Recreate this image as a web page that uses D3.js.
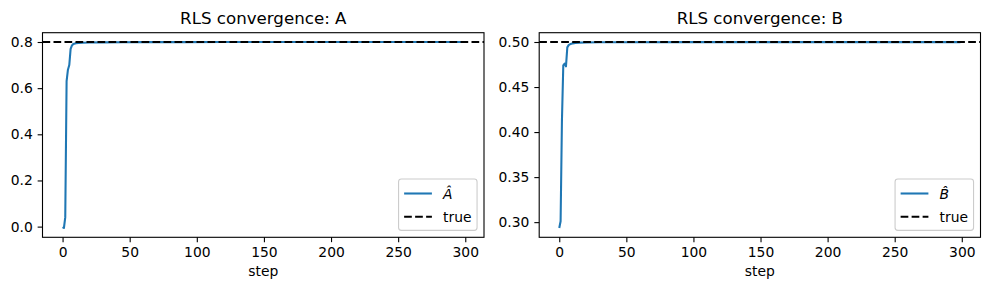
<!DOCTYPE html>
<html>
<head>
<meta charset="utf-8">
<script src="https://cdn.jsdelivr.net/npm/d3@7/dist/d3.min.js"></script>
<style>
  body { margin: 0; background: #fff; }
  svg text { font-family: "DejaVu Sans", sans-serif; fill: #000; }
</style>
</head>
<body>
<div id="chart"></div>
<script>
// values (sparse points, the curves are flat after ~20 steps)
const stepsA  = [0, 1, 2, 3, 4, 5, 6, 7, 8, 10, 12, 15, 20, 30, 45, 60, 90, 120, 160, 200, 250, 299]
const valuesA = [-0.002, -0.006, 0.04, 0.63, 0.68, 0.70, 0.77, 0.785, 0.791, 0.795, 0.796, 0.797, 0.798, 0.7985,
                 0.799, 0.7993, 0.7995, 0.7997, 0.7998, 0.7998, 0.7999, 0.7999]
const trueA = 0.8

const stepsB  = [0, 1, 2, 3, 4, 5, 6, 7, 8, 10, 12, 15, 20, 30, 50, 100, 150, 200, 250, 299]
const valuesB = [0.2935, 0.301, 0.413, 0.474, 0.476, 0.473, 0.494, 0.4965, 0.4975, 0.4985, 0.499, 0.4993,
                 0.4995, 0.4997, 0.4998, 0.4999, 0.4999, 0.4999, 0.4999, 0.4999]
const trueB = 0.5

const xTicks  = [0, 50, 100, 150, 200, 250, 300]
const yTicksA = [0.0, 0.2, 0.4, 0.6, 0.8]
const yTicksB = [0.30, 0.35, 0.40, 0.45, 0.50]

const W = 989, H = 290
const fs = 13.89           // 10pt at 100 dpi
const blue = "#1f77b4"

const svg = d3.select("#chart").append("svg")
    .attr("width", W)
    .attr("height", H)
    .attr("viewBox", `0 0 ${W} ${H}`)

// matplotlib style autoscale: data range padded by 5% on each side
function padded(lo, hi) {
    const m = (hi - lo) * 0.05
    return [lo - m, hi + m]
}

function panel(cfg) {
    const {left, right, top, bottom} = cfg
    const g = svg.append("g")

    const x = d3.scaleLinear()
        .domain(padded(d3.min(cfg.steps), d3.max(cfg.steps)))
        .range([left, right])
    const ylo = Math.min(d3.min(cfg.values), cfg.truth)
    const yhi = Math.max(d3.max(cfg.values), cfg.truth)
    const y = d3.scaleLinear()
        .domain(padded(ylo, yhi))
        .range([bottom, top])

    const pts = cfg.steps.map((s, i) => [s, cfg.values[i]])

    const clipId = "clip-" + cfg.name
    g.append("clipPath").attr("id", clipId)
        .append("rect")
        .attr("x", left).attr("y", top)
        .attr("width", right - left).attr("height", bottom - top)

    g.append("path")
        .datum(pts)
        .attr("clip-path", `url(#${clipId})`)
        .attr("d", d3.line().x(d => x(d[0])).y(d => y(d[1])))
        .style("fill", "none")
        .style("stroke", blue)
        .style("stroke-width", 2.08)
        .style("stroke-linejoin", "round")
        .style("stroke-linecap", "butt")

    g.append("line")
        .attr("x1", left).attr("x2", right)
        .attr("y1", y(cfg.truth)).attr("y2", y(cfg.truth))
        .style("stroke", "#000")
        .style("stroke-width", 2.08)
        .style("stroke-dasharray", "7.7,3.3")

    // axes
    const xAxis = g.append("g")
        .attr("transform", `translate(0,${bottom})`)
        .call(d3.axisBottom(x).tickValues(xTicks).tickSize(4.86).tickPadding(4.4).tickFormat(d3.format("d")))
    const yAxis = g.append("g")
        .attr("transform", `translate(${left},0)`)
        .call(d3.axisLeft(y).tickValues(cfg.yTicks).tickSize(4.86).tickPadding(4.9).tickFormat(d3.format(cfg.yFormat)))

    for (const a of [xAxis, yAxis]) {
        a.select(".domain").remove()
        a.selectAll(".tick line").style("stroke", "#000").style("stroke-width", 1.1)
        a.selectAll(".tick text").style("font-size", fs + "px").style("fill", "#000")
            .attr("font-family", null)
    }
    xAxis.selectAll(".tick text").attr("dy", "0.76em")

    // frame
    g.append("rect")
        .attr("x", left).attr("y", top)
        .attr("width", right - left).attr("height", bottom - top)
        .style("fill", "none")
        .style("stroke", "#000")
        .style("stroke-width", 1.1)

    // title and label
    g.append("text")
        .attr("x", (left + right) / 2)
        .attr("y", top - 8.3)
        .attr("text-anchor", "middle")
        .style("font-size", "16.67px")
        .text(cfg.title)

    g.append("text")
        .attr("x", (left + right) / 2)
        .attr("y", 275.5)
        .attr("text-anchor", "middle")
        .style("font-size", fs + "px")
        .text("step")

    // legend, lower right
    const pad = 0.4 * fs, handleLen = 2 * fs, textPad = 0.8 * fs
    const boxRight = right - 0.5 * fs, boxBottom = bottom - 0.5 * fs
    const boxTop = 179
    const lg = g.append("g")
    const box = lg.append("rect")
        .attr("rx", 2.8).attr("ry", 2.8)
        .style("fill", "#fff").style("fill-opacity", 0.8)
        .style("stroke", "#cccccc").style("stroke-width", 1.1)

    const rows = [
        {y: 193.5, label: cfg.label, dash: null, color: blue, italic: true},
        {y: 216.8, label: "true", dash: "7.7,3.3", color: "#000", italic: false}
    ]
    const texts = []
    rows.forEach(r => {
        const t = lg.append("text")
            .attr("y", r.y)
            .attr("dy", "0.36em")
            .style("font-size", fs + "px")
            .style("font-style", r.italic ? "italic" : "normal")
            .text(r.label)
        texts.push(t)
    })
    const tw = d3.max(texts, t => t.node().getComputedTextLength())
    const boxLeft = boxRight - (pad + handleLen + textPad + tw + pad)
    box.attr("x", boxLeft).attr("y", boxTop)
        .attr("width", boxRight - boxLeft).attr("height", boxBottom - boxTop)
    rows.forEach((r, i) => {
        const hx = boxLeft + pad
        lg.append("line")
            .attr("x1", hx).attr("x2", hx + handleLen)
            .attr("y1", r.y).attr("y2", r.y)
            .style("stroke", r.color)
            .style("stroke-width", 2.08)
            .style("stroke-dasharray", r.dash)
        texts[i].attr("x", hx + handleLen + textPad)
    })
}

panel({
    name: "a", title: "RLS convergence: A", label: "\u00C2",
    steps: stepsA, values: valuesA, truth: trueA,
    yTicks: yTicksA, yFormat: ".1f",
    left: 42.5, right: 484, top: 32.7, bottom: 237.3
})

panel({
    name: "b", title: "RLS convergence: B", label: "B\u0302",
    steps: stepsB, values: valuesB, truth: trueB,
    yTicks: yTicksB, yFormat: ".2f",
    left: 539.2, right: 980.5, top: 32.7, bottom: 237.3
})
</script>
</body>
</html>
